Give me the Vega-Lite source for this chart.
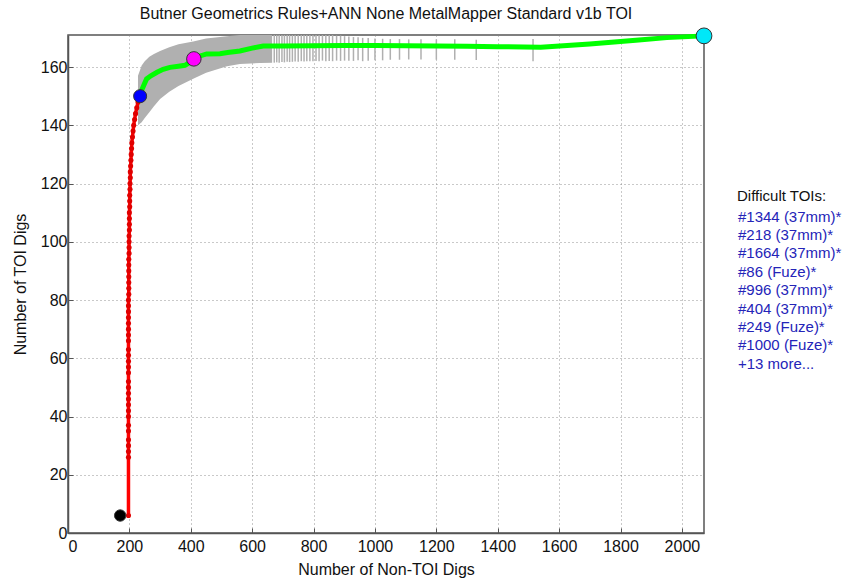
{
  "$schema": "https://vega.github.io/schema/vega-lite/v6.json",
  "autosize": {"type": "none"},
  "width": 636,
  "height": 498,
  "padding": {"left": 68, "top": 35, "right": 156, "bottom": 48},
  "background": "white",
  "title": {
    "text": "Butner Geometrics Rules+ANN None MetalMapper Standard v1b TOI",
    "font": "Liberation Sans",
    "fontSize": 16,
    "fontWeight": "normal",
    "color": "#111",
    "offset": 4
  },
  "config": {
    "font": "Liberation Sans",
    "view": {"stroke": "#555", "strokeWidth": 1.5},
    "axis": {
      "labelFont": "Liberation Sans",
      "labelFontSize": 16,
      "labelColor": "#111",
      "titleFont": "Liberation Sans",
      "titleFontSize": 16,
      "titleFontWeight": "normal",
      "titleColor": "#111",
      "domainColor": "#555",
      "domainWidth": 1.5,
      "tickColor": "#555",
      "tickSize": -5,
      "gridColor": "#888",
      "gridDash": [1, 3],
      "gridOpacity": 0.9
    }
  },
  "datasets": {
    "red": [
      {"x": 197, "y": 6}, {"x": 197, "y": 26}, {"x": 197, "y": 28}, {"x": 197, "y": 30}, {"x": 197, "y": 32},
      {"x": 197, "y": 35}, {"x": 197, "y": 37}, {"x": 197, "y": 40}, {"x": 197, "y": 42}, {"x": 197, "y": 44},
      {"x": 197, "y": 46}, {"x": 197, "y": 48}, {"x": 197, "y": 50}, {"x": 197, "y": 52}, {"x": 197, "y": 55},
      {"x": 197, "y": 57}, {"x": 197, "y": 59}, {"x": 197, "y": 61}, {"x": 197, "y": 63}, {"x": 197, "y": 66},
      {"x": 197, "y": 68}, {"x": 197, "y": 70}, {"x": 197, "y": 72}, {"x": 197, "y": 74}, {"x": 197, "y": 76},
      {"x": 197, "y": 78}, {"x": 197, "y": 80}, {"x": 198, "y": 82}, {"x": 198, "y": 84}, {"x": 198, "y": 86},
      {"x": 198, "y": 88}, {"x": 198, "y": 90}, {"x": 198, "y": 92}, {"x": 198, "y": 94}, {"x": 199, "y": 96},
      {"x": 199, "y": 98}, {"x": 199, "y": 100}, {"x": 199, "y": 102}, {"x": 200, "y": 104}, {"x": 200, "y": 106},
      {"x": 200, "y": 108}, {"x": 200, "y": 110}, {"x": 201, "y": 112}, {"x": 201, "y": 114}, {"x": 201, "y": 116},
      {"x": 202, "y": 118}, {"x": 202, "y": 120}, {"x": 203, "y": 122}, {"x": 203, "y": 124}, {"x": 204, "y": 126},
      {"x": 205, "y": 128}, {"x": 206, "y": 130}, {"x": 207, "y": 132}, {"x": 208, "y": 134}, {"x": 210, "y": 136},
      {"x": 212, "y": 138}, {"x": 214, "y": 140}, {"x": 217, "y": 142}, {"x": 220, "y": 144}, {"x": 224, "y": 146},
      {"x": 228, "y": 148}, {"x": 235, "y": 150}
    ],
    "green": [
      {"x": 235, "y": 150}, {"x": 240, "y": 152}, {"x": 248, "y": 154}, {"x": 256, "y": 155.9}, {"x": 270, "y": 157},
      {"x": 290, "y": 158.2}, {"x": 310, "y": 159.2}, {"x": 332, "y": 159.9}, {"x": 360, "y": 160.3}, {"x": 381, "y": 160.6},
      {"x": 395, "y": 161.5}, {"x": 410, "y": 162.8}, {"x": 430, "y": 163.8}, {"x": 452, "y": 164.5}, {"x": 495, "y": 164.6},
      {"x": 520, "y": 165}, {"x": 560, "y": 165.5}, {"x": 600, "y": 166.5}, {"x": 636, "y": 167.2}, {"x": 700, "y": 167.2},
      {"x": 800, "y": 167.3}, {"x": 900, "y": 167.4}, {"x": 1000, "y": 167.4}, {"x": 1100, "y": 167.3}, {"x": 1200, "y": 167.2},
      {"x": 1300, "y": 167.1}, {"x": 1400, "y": 167}, {"x": 1540, "y": 166.8}, {"x": 1700, "y": 167.9}, {"x": 1850, "y": 169.2},
      {"x": 1951, "y": 170.1}, {"x": 2072, "y": 170.7}
    ],
    "band": [
      {"x": 228, "lo": 140, "hi": 157}, {"x": 240, "lo": 141, "hi": 160.5}, {"x": 250, "lo": 142.5, "hi": 162},
      {"x": 265, "lo": 144.5, "hi": 163.5}, {"x": 280, "lo": 146.5, "hi": 164.5}, {"x": 300, "lo": 149, "hi": 165.5},
      {"x": 330, "lo": 151.5, "hi": 166.8}, {"x": 360, "lo": 153.5, "hi": 167.8}, {"x": 408, "lo": 156, "hi": 168.8},
      {"x": 450, "lo": 158, "hi": 169.8}, {"x": 518, "lo": 160.3, "hi": 170.6}, {"x": 560, "lo": 161, "hi": 171},
      {"x": 625, "lo": 161.4, "hi": 171}, {"x": 665, "lo": 161.5, "hi": 171}
    ],
    "bars": [
      {"x": 672, "lo": 161.5, "hi": 171}, {"x": 680, "lo": 161.6, "hi": 171}, {"x": 688, "lo": 161.5, "hi": 171},
      {"x": 697, "lo": 161.7, "hi": 171}, {"x": 705, "lo": 161.6, "hi": 171}, {"x": 714, "lo": 161.8, "hi": 171},
      {"x": 722, "lo": 161.7, "hi": 171}, {"x": 731, "lo": 161.8, "hi": 171}, {"x": 740, "lo": 161.9, "hi": 171},
      {"x": 750, "lo": 161.8, "hi": 171}, {"x": 760, "lo": 162, "hi": 171}, {"x": 769, "lo": 161.9, "hi": 171},
      {"x": 778, "lo": 162, "hi": 171}, {"x": 788, "lo": 162, "hi": 171}, {"x": 798, "lo": 162, "hi": 171},
      {"x": 808, "lo": 162.1, "hi": 171}, {"x": 818, "lo": 162, "hi": 171}, {"x": 829, "lo": 162.2, "hi": 171},
      {"x": 840, "lo": 162, "hi": 171}, {"x": 851, "lo": 162.1, "hi": 171}, {"x": 862, "lo": 162, "hi": 171},
      {"x": 875, "lo": 162.2, "hi": 170.8}, {"x": 888, "lo": 162.1, "hi": 170.8}, {"x": 901, "lo": 162.2, "hi": 170.6},
      {"x": 915, "lo": 162.2, "hi": 170.5}, {"x": 930, "lo": 162.1, "hi": 170.3}, {"x": 945, "lo": 162.3, "hi": 170.2},
      {"x": 960, "lo": 162, "hi": 170}, {"x": 978, "lo": 162.2, "hi": 170},
      {"x": 1000, "lo": 162.3, "hi": 169.8}, {"x": 1025, "lo": 162.3, "hi": 169.7}, {"x": 1050, "lo": 162.5, "hi": 169.6},
      {"x": 1080, "lo": 162.5, "hi": 169.6}, {"x": 1110, "lo": 162.6, "hi": 169.5}, {"x": 1150, "lo": 162.6, "hi": 169.5},
      {"x": 1200, "lo": 162.5, "hi": 169.5}, {"x": 1260, "lo": 162.5, "hi": 169.5}, {"x": 1330, "lo": 162.4, "hi": 169.4},
      {"x": 1515, "lo": 162, "hi": 169.6}
    ],
    "dots": [
      {"x": 170, "y": 6, "kind": "start"},
      {"x": 235, "y": 150, "kind": "blue"},
      {"x": 410, "y": 162.8, "kind": "pink"},
      {"x": 2072, "y": 170.7, "kind": "end"}
    ],
    "notes": [
      {"label": "#1344 (37mm)*"}, {"label": "#218 (37mm)*"}, {"label": "#1664 (37mm)*"},
      {"label": "#86 (Fuze)*"}, {"label": "#996 (37mm)*"}, {"label": "#404 (37mm)*"},
      {"label": "#249 (Fuze)*"}, {"label": "#1000 (Fuze)*"}, {"label": "+13 more..."}
    ]
  },
  "layer": [
    {
      "data": {"name": "band"},
      "mark": {"type": "area", "color": "#b0b0b0", "clip": true, "interpolate": "linear"},
      "encoding": {
        "x": {"field": "x", "type": "quantitative",
              "scale": {"domain": [0, 2072], "nice": false, "zero": false},
              "axis": {"values": [0, 200, 400, 600, 800, 1000, 1200, 1400, 1600, 1800, 2000], "format": "d",
                       "title": "Number of Non-TOI Digs", "grid": true, "labelPadding": 10, "titlePadding": 7}},
        "y": {"field": "lo", "type": "quantitative",
              "scale": {"domain": [0, 171], "nice": false, "zero": false},
              "axis": {"values": [0, 20, 40, 60, 80, 100, 120, 140, 160], "format": "d",
                       "title": "Number of TOI Digs", "grid": true, "labelPadding": 6, "titlePadding": 12}},
        "y2": {"field": "hi"}
      }
    },
    {
      "data": {"name": "bars"},
      "mark": {"type": "rule", "color": "#b0b0b0", "strokeWidth": 1.5, "clip": true},
      "encoding": {
        "x": {"field": "x", "type": "quantitative"},
        "y": {"field": "lo", "type": "quantitative"},
        "y2": {"field": "hi"}
      }
    },
    {
      "data": {"name": "red"},
      "mark": {"type": "line", "color": "#ff0000", "strokeWidth": 3.5,
               "point": {"filled": true, "color": "#e00000", "size": 26}},
      "encoding": {
        "x": {"field": "x", "type": "quantitative"},
        "y": {"field": "y", "type": "quantitative"},
        "order": {"field": "y"}
      }
    },
    {
      "data": {"name": "green"},
      "mark": {"type": "line", "color": "#00ff00", "strokeWidth": 5},
      "encoding": {
        "x": {"field": "x", "type": "quantitative"},
        "y": {"field": "y", "type": "quantitative"}
      }
    },
    {
      "data": {"name": "dots"},
      "mark": {"type": "point", "filled": true, "opacity": 1, "stroke": "#333", "strokeWidth": 1, "clip": false},
      "encoding": {
        "x": {"field": "x", "type": "quantitative"},
        "y": {"field": "y", "type": "quantitative"},
        "fill": {"field": "kind", "type": "nominal", "legend": null,
                 "scale": {"domain": ["start", "blue", "pink", "end"], "range": ["#000000", "#0000ff", "#ff00ff", "#00e8f8"]}},
        "size": {"field": "kind", "type": "nominal", "legend": null,
                 "scale": {"domain": ["start", "blue", "pink", "end"], "range": [130, 250, 250, 250]}}
      }
    },
    {
      "data": {"name": "notes"},
      "mark": {"type": "point", "opacity": 0},
      "encoding": {
        "color": {"field": "label", "type": "nominal",
                  "scale": {"domain": ["#1344 (37mm)*", "#218 (37mm)*", "#1664 (37mm)*", "#86 (Fuze)*", "#996 (37mm)*", "#404 (37mm)*", "#249 (Fuze)*", "#1000 (Fuze)*", "+13 more..."],
                            "range": ["#2424b8"]},
                  "legend": {
                    "title": "Difficult TOIs:",
                    "orient": "none",
                    "legendX": 669,
                    "legendY": 154,
                    "titleFont": "Liberation Sans",
                    "titleFontSize": 15,
                    "titleFontWeight": "normal",
                    "titleColor": "#111",
                    "titlePadding": 5,
                    "labelFont": "Liberation Sans",
                    "labelFontSize": 15,
                    "labelColor": "#2424b8",
                    "labelLimit": 200,
                    "symbolSize": 0,
                    "symbolOpacity": 0,
                    "symbolStrokeWidth": 0,
                    "labelOffset": -14,
                    "rowPadding": 2.4
                  }}
      }
    }
  ],
  "resolve": {"scale": {"fill": "independent", "color": "independent", "size": "independent"}}
}
